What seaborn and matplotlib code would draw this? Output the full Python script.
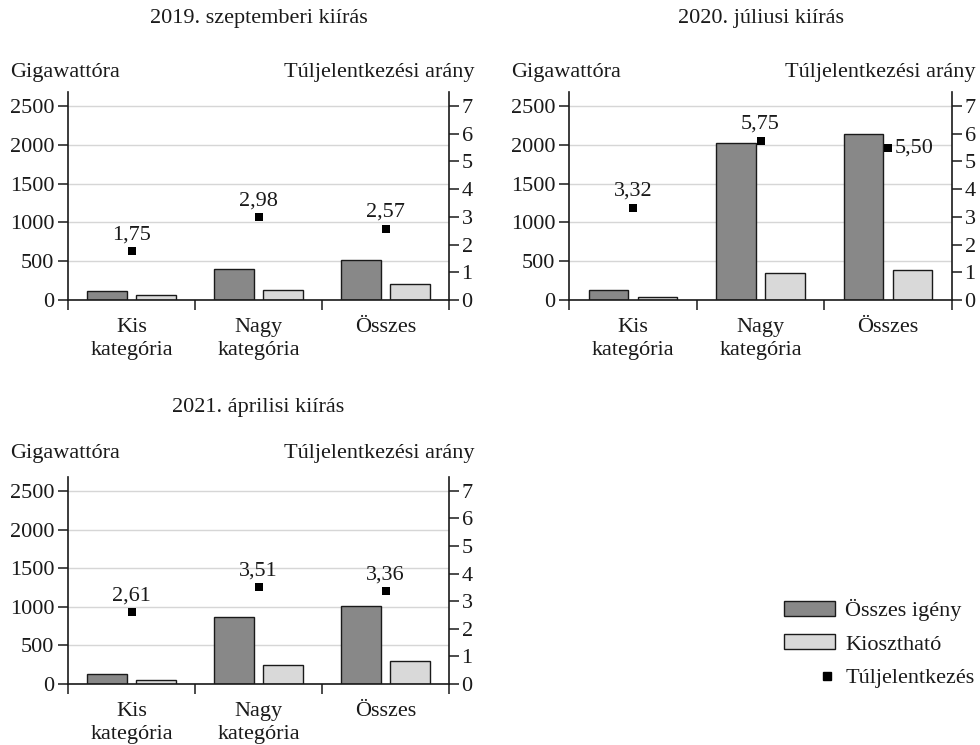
import matplotlib
matplotlib.use("Agg")
import numpy as np
import pandas as pd
import seaborn as sns
import matplotlib.pyplot as plt
from matplotlib.patches import Patch
from matplotlib.lines import Line2D
from matplotlib.legend_handler import HandlerLine2D

# ---------------- data ----------------
categories = ["Kis\nkategória", "Nagy\nkategória", "Összes"]
series = ["Összes igény", "Kiosztható"]
ratio_label = "Túljelentkezés"
titles = ["2019. szeptemberi kiírás", "2020. júliusi kiírás", "2021. áprilisi kiírás"]

demand_2019 = [116, 400, 516]
alloc_2019 = [66, 134, 200]
ratio_2019 = [1.75, 2.98, 2.57]

demand_2020 = [133, 2020, 2143]
alloc_2020 = [40, 351, 390]
ratio_2020 = [3.32, 5.75, 5.50]

demand_2021 = [125, 871, 1004]
alloc_2021 = [48, 246, 299]
ratio_2021 = [2.61, 3.51, 3.36]

left_ticks = [0, 500, 1000, 1500, 2000, 2500]
right_ticks = [0, 1, 2, 3, 4, 5, 6, 7]

# ---------------- style ----------------
sns.set_theme(style="white")
plt.rcParams["font.family"] = ["Liberation Serif", "DejaVu Serif"]
FS = 16
TXT = "#1a1a1a"
DARK = "#888888"
LIGHT = "#d9d9d9"
EDGE = "#1a1a1a"

fig = plt.figure(figsize=(9.8, 7.45), dpi=100)
W, H = 980, 745


def px_axes(left, right, top, bottom):
    return fig.add_axes([left / W, 1 - bottom / H, (right - left) / W, (bottom - top) / H])


YTOP = 2680
RTOP = 7 * YTOP / 2500

panels = [
    dict(rect=(68, 449, 92, 300), demand=demand_2019, alloc=alloc_2019, ratio=ratio_2019,
         title=titles[0], title_y=18, lab_y=72, lab_l=10, lab_r=474, side=[]),
    dict(rect=(569, 952, 92, 300), demand=demand_2020, alloc=alloc_2020, ratio=ratio_2020,
         title=titles[1], title_y=18, lab_y=72, lab_l=511, lab_r=975, side=[2]),
    dict(rect=(68, 449, 477, 684), demand=demand_2021, alloc=alloc_2021, ratio=ratio_2021,
         title=titles[2], title_y=407, lab_y=453, lab_l=10, lab_r=474, side=[]),
]

for p in panels:
    l, r, t, b = p["rect"]
    ax = px_axes(l, r, t, b)
    df = pd.DataFrame({
        "cat": categories * 2,
        "series": [series[0]] * 3 + [series[1]] * 3,
        "val": p["demand"] + p["alloc"],
    })
    sns.barplot(data=df, x="cat", y="val", hue="series", order=categories,
                hue_order=series, palette={series[0]: DARK, series[1]: LIGHT},
                saturation=1, width=0.77, gap=0.2, edgecolor=EDGE, linewidth=1.0,
                ax=ax, legend=False, zorder=2)
    ax.set_xlim(-0.5, 2.5)
    ax.set_ylim(0, YTOP)
    ax.set_xlabel("")
    ax.set_ylabel("")
    ax.set_yticks(left_ticks)
    ax.set_yticklabels([str(v) for v in left_ticks], fontsize=FS, color=TXT)
    ax.set_xticks([-0.5, 0.5, 1.5, 2.5])
    ax.set_xticklabels([])
    ax.set_xticks([0, 1, 2], minor=True)
    ax.set_xticklabels(categories, minor=True, fontsize=FS, color=TXT, linespacing=1.3)
    ax.tick_params(axis="x", which="major", bottom=True, length=7, width=1.1,
                   direction="out", color=TXT)
    ax.tick_params(axis="x", which="minor", bottom=True, length=0, pad=13)
    ax.tick_params(axis="y", left=True, length=7, width=1.1, direction="out",
                   color=TXT, pad=3)
    ax.yaxis.grid(True, color="#d6d6d6", linewidth=1.0, zorder=0)
    ax.xaxis.grid(False)
    ax.set_axisbelow(True)
    for s in ["top", "right"]:
        ax.spines[s].set_visible(False)
    for s in ["left", "bottom"]:
        ax.spines[s].set_color(TXT)
        ax.spines[s].set_linewidth(1.2)
    ax.patch.set_alpha(0)

    ax2 = ax.twinx()
    sns.scatterplot(x=np.arange(len(categories)), y=p["ratio"], marker="s", color="black",
                    s=34, linewidth=0, ax=ax2, zorder=5)
    ax2.set_ylim(0, RTOP)
    ax2.set_yticks(right_ticks)
    ax2.set_yticklabels([str(v) for v in right_ticks], fontsize=FS, color=TXT)
    ax2.tick_params(axis="y", right=True, length=7, width=1.1, direction="out",
                    color=TXT, pad=2)
    ax2.grid(False)
    for s in ["top", "left", "bottom"]:
        ax2.spines[s].set_visible(False)
    ax2.spines["right"].set_color(TXT)
    ax2.spines["right"].set_linewidth(1.2)
    ax2.set_ylabel("")

    for i, v in enumerate(p["ratio"]):
        txt = f"{v:.2f}".replace(".", ",")
        if i in p["side"]:
            ax2.annotate(txt, (i, v), xytext=(5, 0), textcoords="offset points",
                         ha="left", va="center", fontsize=FS, color=TXT)
        else:
            ax2.annotate(txt, (i, v), xytext=(0, 5), textcoords="offset points",
                         ha="center", va="bottom", fontsize=FS, color=TXT)

    fig.text((l + r) / 2 / W, 1 - p["title_y"] / H, p["title"], ha="center",
             va="center", fontsize=FS, color=TXT)
    fig.text(p["lab_l"] / W, 1 - p["lab_y"] / H, "Gigawattóra", ha="left",
             va="center", fontsize=FS, color=TXT)
    fig.text(p["lab_r"] / W, 1 - p["lab_y"] / H, "Túljelentkezési arány", ha="right",
             va="center", fontsize=FS, color=TXT)

marker_handle = Line2D([], [], marker="s", color="black", linestyle="none", markersize=5.5)
handles = [
    Patch(facecolor=DARK, edgecolor=EDGE, linewidth=1.0),
    Patch(facecolor=LIGHT, edgecolor=EDGE, linewidth=1.0),
    marker_handle,
]
fig.legend(handles, series + [ratio_label], loc="upper left",
           bbox_to_anchor=(784 / W, 1 - 599 / H), frameon=False, fontsize=FS,
           handlelength=2.3, handleheight=0.65, labelspacing=0.6, handletextpad=0.45,
           borderpad=0, borderaxespad=0, labelcolor=TXT,
           handler_map={marker_handle: HandlerLine2D(numpoints=1, xpad=1.6)})

fig.savefig("out.png", dpi=100)
